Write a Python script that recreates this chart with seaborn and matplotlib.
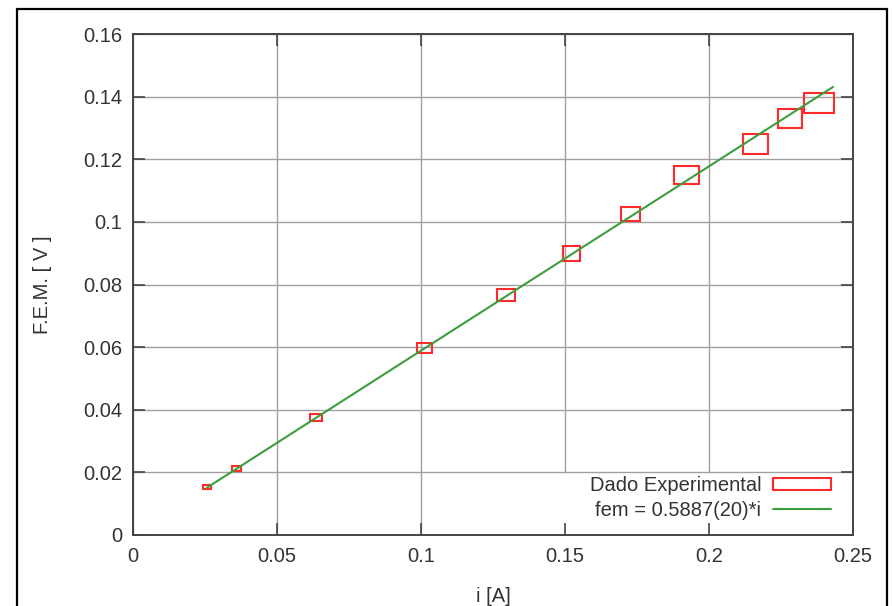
import matplotlib
matplotlib.use("Agg")
import matplotlib.pyplot as plt
from matplotlib.patches import Rectangle, Patch
from matplotlib.lines import Line2D
import numpy as np
import pandas as pd
import seaborn as sns

# ---- data ----
corrente = [0.0257, 0.0359, 0.0635, 0.1012, 0.1295, 0.1523, 0.1726, 0.1922, 0.2161, 0.2281, 0.2382]
fem = [0.0153, 0.0212, 0.0375, 0.0597, 0.0767, 0.0900, 0.1025, 0.1150, 0.1249, 0.1330, 0.1380]
erro_i = [0.0014, 0.0016, 0.0021, 0.0026, 0.0031, 0.0030, 0.0033, 0.0043, 0.0043, 0.0042, 0.0052]
erro_fem = [0.0006, 0.0008, 0.0011, 0.0016, 0.0019, 0.0024, 0.0022, 0.0029, 0.0032, 0.0030, 0.0032]

slope = 0.5887
fit_range = [0.0257, 0.2431]

x_ticks = [0, 0.05, 0.1, 0.15, 0.2, 0.25]
x_ticklabels = ["0", "0.05", "0.1", "0.15", "0.2", "0.25"]
y_ticks = [0, 0.02, 0.04, 0.06, 0.08, 0.1, 0.12, 0.14, 0.16]
y_ticklabels = ["0", "0.02", "0.04", "0.06", "0.08", "0.1", "0.12", "0.14", "0.16"]

label_data = "Dado Experimental"
label_fit = "fem = 0.5887(20)*i"
xlabel = "i [A]"
ylabel = "F.E.M. [ V ]"

# ---- style ----
sns.set_theme(style="white")
plt.rcParams["font.family"] = ["Liberation Sans", "DejaVu Sans"]
FS = 14.5
DARK = "#333333"
RED = "#ff2a2a"
GREEN = "#3c9e3c"
GRID = "#a0a0a0"

fig = plt.figure(figsize=(8.93, 6.06), dpi=100, facecolor="white")
W, H = 893, 606
ax = fig.add_axes([133 / W, 1 - 535 / H, (853 - 133) / W, (535 - 34) / H])
ax.set_facecolor("white")

# outer frame
fig.patches.append(Rectangle((17 / W, -0.05), (887 - 17) / W, 1.05 - 9 / H,
                             transform=fig.transFigure, fill=False,
                             edgecolor="black", linewidth=1.6, zorder=0))

ax.set_xlim(0, 0.25)
ax.set_ylim(0, 0.16)

# grid (the key area in the lower right is opaque, hiding the grid behind it)
key_left = 0.12
key_top = 0.02
for xv in x_ticks:
    ymin = (key_top / 0.16) if xv > key_left else 0.0
    ax.axvline(xv, ymin=ymin, ymax=1, color=GRID, linewidth=1.0, zorder=0.5)
for yv in y_ticks:
    ax.axhline(yv, color=GRID, linewidth=1.0, zorder=0.5)

fit_df = pd.DataFrame({"i": fit_range, "fem": [slope * v for v in fit_range]})
sns.lineplot(data=fit_df, x="i", y="fem", ax=ax, color=GREEN, linewidth=1.5, zorder=4)

for xi, yi, ex, ey in zip(corrente, fem, erro_i, erro_fem):
    ax.add_patch(Rectangle((xi - ex, yi - ey), 2 * ex, 2 * ey, facecolor="none",
                           edgecolor=RED, linewidth=1.5, zorder=3))

ax.set_xticks(x_ticks)
ax.set_xticklabels(x_ticklabels)
ax.set_yticks(y_ticks)
ax.set_yticklabels(y_ticklabels)
ax.grid(False)
ax.tick_params(axis="both", which="major", direction="in", length=8.5, width=1.2,
               color="#444444", labelsize=FS, labelcolor=DARK,
               top=True, right=True, bottom=True, left=True)
ax.tick_params(axis="x", pad=9)
ax.tick_params(axis="y", pad=8)
for s in ax.spines.values():
    s.set_visible(True)
    s.set_color("#444444")
    s.set_linewidth(1.4)
    s.set_zorder(5)

ax.set_xlabel("")
ax.set_ylabel("")
fig.text(493 / W, 1 - 596 / H, xlabel, ha="center", va="center", fontsize=FS, color=DARK)
fig.text(42 / W, 1 - 285 / H, ylabel, ha="center", va="center", rotation=90, fontsize=FS, color=DARK)

handles = [Patch(facecolor="white", edgecolor=RED, linewidth=1.5),
           Line2D([0], [0], color=GREEN, linewidth=1.5)]
leg = ax.legend(handles, [label_data, label_fit], loc="lower right",
                bbox_to_anchor=(1 - 14 / 720, 7 / 501), borderaxespad=0.0, markerfirst=False,
                fontsize=FS, frameon=False, handlelength=2.9,
                handleheight=0.55, handletextpad=0.55, labelspacing=0.3, borderpad=0.4)
for t in leg.get_texts():
    t.set_color(DARK)

fig.savefig("out.png", dpi=100, facecolor="white")
